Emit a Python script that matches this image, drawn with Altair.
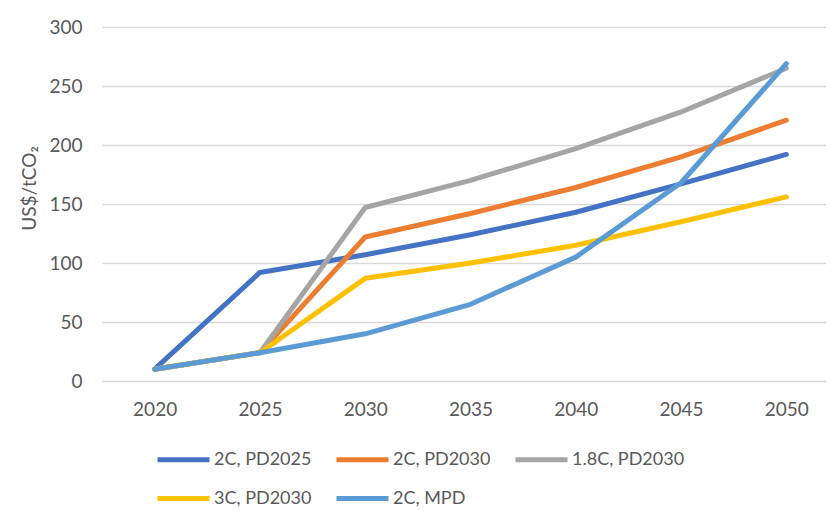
import altair as alt
import pandas as pd

years = ["2020", "2025", "2030", "2035", "2040", "2045", "2050"]
series_names = ["2C, PD2025", "2C, PD2030", "1.8C, PD2030", "3C, PD2030", "2C, MPD"]
s_2c_pd2025 = [10, 92, 107, 124, 143, 167, 192]
s_2c_pd2030 = [10, 24, 122, 142, 164, 190, 221]
s_18c_pd2030 = [10, 24, 147, 170, 197, 228, 265]
s_3c_pd2030 = [10, 24, 87, 100, 115, 135, 156]
s_2c_mpd = [10, 24, 40, 65, 105, 168, 269]
colors = ["#4472C4", "#ED7D31", "#A5A5A5", "#FFC000", "#5B9BD5"]

all_vals = [s_2c_pd2025, s_2c_pd2030, s_18c_pd2030, s_3c_pd2030, s_2c_mpd]
rows = []
for i, (name, vals) in enumerate(zip(series_names, all_vals)):
    for y, v in zip(years, vals):
        rows.append({"year": y, "value": v, "series": name, "order": i})
df = pd.DataFrame(rows)

FONT = "Lato"
GREY = "#595959"

chart = alt.Chart(df).mark_line(strokeWidth=5, strokeCap="round", strokeJoin="round").encode(
    x=alt.X("year:O", sort=years, title=None,
            scale=alt.Scale(type="point", range=[0, 737], padding=0.5),
            axis=alt.Axis(labelAngle=0, ticks=False, domain=False, grid=False,
                          labelPadding=19, labelFontSize=19, labelColor=GREY, labelFont=FONT)),
    y=alt.Y("value:Q", scale=alt.Scale(domain=[0, 300], nice=False),
            axis=alt.Axis(values=[0, 50, 100, 150, 200, 250, 300], ticks=False, domain=False,
                          grid=True, gridColor="#D9D9D9", gridWidth=1.5,
                          labelPadding=20, labelFontSize=19, labelColor=GREY, labelFont=FONT,
                          title="US$/tCO₂", titleFont=FONT, titleFontSize=19, titleColor=GREY,
                          titleFontWeight="normal", titleX=-73, titleY=161,
                          titleBaseline="middle", titleAngle=-90),
            title="US$/tCO₂"),
    color=alt.Color("series:N", sort=series_names,
                    scale=alt.Scale(domain=series_names, range=colors),
                    legend=alt.Legend(orient="none", legendX=53, legendY=404, columns=3,
                                      direction="horizontal", title=None,
                                      symbolType="stroke", symbolSize=2704,
                                      symbolStrokeWidth=5, labelOffset=2,
                                      columnPadding=14, rowPadding=-10,
                                      labelFontSize=18, labelColor=GREY, labelFont=FONT)),
    order=alt.Order("order:Q"),
    detail="series:N",
).properties(
    width=724, height=354,
    autosize=alt.AutoSizeParams(type="none"),
    padding={"left": 94, "top": 19, "right": 0, "bottom": 128},
).configure_view(stroke=None)

chart.save("out.html", embed_options={"renderer": "svg", "actions": False})
